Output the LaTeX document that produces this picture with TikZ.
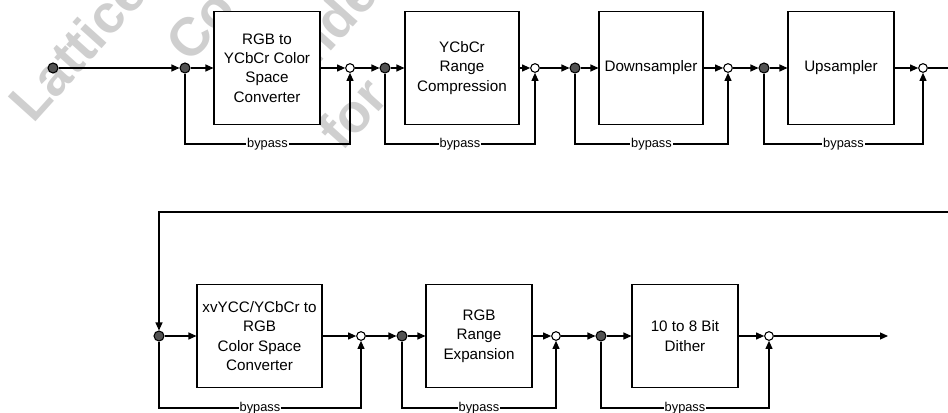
\documentclass[tikz,border=0pt]{standalone}
\usepackage{fontspec}
\setmainfont{Liberation Sans}
\usetikzlibrary{arrows.meta}
\begin{document}
\begin{tikzpicture}[x=0.75pt,y=-0.75pt,
  line width=0.8pt,
  blk/.style={draw, fill=white, align=center, inner sep=0pt,
    font=\fontsize{11.4}{14.6}\selectfont},
  tallblk/.style={blk, minimum height=84.75pt},
  lowblk/.style={blk, minimum height=77.25pt},
  split/.style={circle, draw, fill=black!68, minimum size=7.5pt, inner sep=0pt},
  merge/.style={circle, draw, fill=white, minimum size=6.5pt, inner sep=0pt},
  lbl/.style={fill=white, inner sep=0.8pt, font=\fontsize{9.6}{11}\selectfont},
  flow/.style={-{Triangle[length=6pt,width=5.25pt]}},
  wmark/.style={font=\fontsize{40.5}{40.5}\selectfont\bfseries, text=black!19,
    rotate=48, anchor=base west, inner sep=0pt}
]
\clip (0,0) rectangle (948,413);

% background stamp, partly covered by the blocks
\node[wmark] (w1) at (33,125) {Lattice};
\node[wmark] (w2) at (190,65) {Co};
\node[wmark] (w3) at (290,97) {Under};
\node[wmark] (w4) at (342,153) {for};

% rails for the bypass paths
\coordinate (yt) at (0,144);
\coordinate (yb) at (0,408);

% upper chain
\node[split] (s0) at (53,68) {};
\node[split] (s1) at (185,68) {};
\node[tallblk, minimum width=79.5pt] (b1) at (267,68) {RGB to\\YCbCr Color\\Space\\Converter};
\node[merge] (j1) at (350,68) {};
\node[split] (s2) at (385,68) {};
\node[tallblk, minimum width=85.5pt] (b2) at (462,68) {YCbCr\\Range\\Compression};
\node[merge] (j2) at (535,68) {};
\node[split] (s3) at (575,68) {};
\node[tallblk, minimum width=78pt] (b3) at (651,68) {Downsampler};
\node[merge] (j3) at (728,68) {};
\node[split] (s4) at (764,68) {};
\node[tallblk, minimum width=79.5pt] (b4) at (841,68) {Upsampler};
\node[merge] (j4) at (923,68) {};
\coordinate (tr) at (948,68);

% return path to the lower chain
\coordinate (rr) at (948,212);
\coordinate (rl) at (159,212);

% lower chain
\node[split] (s5) at (159,336) {};
\node[lowblk, minimum width=93.75pt] (b5) at (259.5,336) {xvYCC/YCbCr to\\RGB\\Color Space\\Converter};
\node[merge] (j5) at (361,336) {};
\node[split] (s6) at (402,336) {};
\node[lowblk, minimum width=79.5pt] (b6) at (479,336) {RGB\\Range\\Expansion};
\node[merge] (j6) at (556,336) {};
\node[split] (s7) at (601,336) {};
\node[lowblk, minimum width=79.5pt] (b7) at (685,336) {10 to 8 Bit\\Dither};
\node[merge] (j7) at (769,336) {};
\coordinate (out) at (888,336);

% main signal flow
\foreach \a/\b in {s0/s1,s1/b1,b1/j1,j1/s2,s2/b2,b2/j2,j2/s3,s3/b3,b3/j3,j3/s4,s4/b4,b4/j4,
                   s5/b5,b5/j5,j5/s6,s6/b6,b6/j6,j6/s7,s7/b7,b7/j7,j7/out}
  \draw[flow] (\a) -- (\b);
\draw (j4) -- (tr);
\draw[flow] (rr) -- (rl) -- (s5);

% bypass paths
\foreach \s/\j/\y in {s1/j1/yt,s2/j2/yt,s3/j3/yt,s4/j4/yt,s5/j5/yb,s6/j6/yb,s7/j7/yb}
  \draw[flow] (\s) -- (\s |- \y) -- node[lbl] {bypass} (\j |- \y) -- (\j);
\end{tikzpicture}
\end{document}
